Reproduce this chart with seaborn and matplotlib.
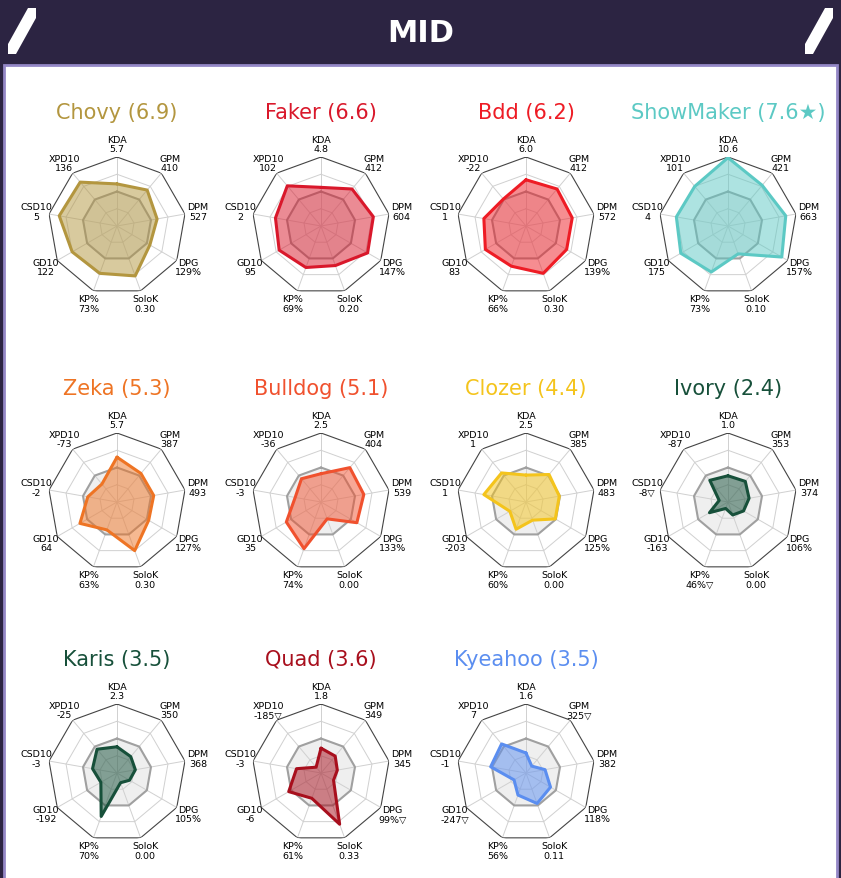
import numpy as np
import matplotlib.pyplot as plt
from matplotlib.patches import Rectangle, Polygon
import seaborn as sns

sns.set_theme(style="white")
plt.rcParams['font.family'] = ['DejaVu Sans']

# axes of every radar, clockwise from the top
stats = ['KDA', 'GPM', 'DPM', 'DPG', 'SoloK', 'KP%', 'GD10', 'CSD10', 'XPD10']

players = ['Chovy', 'Faker', 'Bdd', 'ShowMaker', 'Zeka', 'Bulldog', 'Clozer',
           'Ivory', 'Karis', 'Quad', 'Kyeahoo']
ratings = ['6.9', '6.6', '6.2', '7.6★', '5.3', '5.1', '4.4', '2.4', '3.5', '3.6', '3.5']
colors = ['#b3963f', '#d9182b', '#ee1c25', '#5cc9c4', '#ee7424', '#f0512e',
          '#f4c41c', '#17503a', '#17503a', '#a80f1d', '#5b8ef0']

# raw values shown under the axis names
chovy_txt = ['5.7', '410', '527', '129%', '0.30', '73%', '122', '5', '136']
faker_txt = ['4.8', '412', '604', '147%', '0.20', '69%', '95', '2', '102']
bdd_txt = ['6.0', '412', '572', '139%', '0.30', '66%', '83', '1', '-22']
showmaker_txt = ['10.6', '421', '663', '157%', '0.10', '73%', '175', '4', '101']
zeka_txt = ['5.7', '387', '493', '127%', '0.30', '63%', '64', '-2', '-73']
bulldog_txt = ['2.5', '404', '539', '133%', '0.00', '74%', '35', '-3', '-36']
clozer_txt = ['2.5', '385', '483', '125%', '0.00', '60%', '-203', '1', '1']
ivory_txt = ['1.0', '353', '374', '106%', '0.00', '46%▽', '-163', '-8▽', '-87']
karis_txt = ['2.3', '350', '368', '105%', '0.00', '70%', '-192', '-3', '-25']
quad_txt = ['1.8', '349', '345', '99%▽', '0.33', '61%', '-6', '-3', '-185▽']
kyeahoo_txt = ['1.6', '325▽', '382', '118%', '0.11', '56%', '-247▽', '-1', '7']

# normalised radar values (0..1)
chovy = [0.61, 0.68, 0.59, 0.55, 0.77, 0.73, 0.75, 0.85, 0.83]
faker = [0.56, 0.70, 0.77, 0.78, 0.61, 0.64, 0.70, 0.67, 0.76]
bdd = [0.67, 0.70, 0.68, 0.68, 0.73, 0.62, 0.68, 0.62, 0.51]
showmaker = [0.99, 0.77, 0.85, 0.90, 0.43, 0.71, 0.79, 0.76, 0.75]
zeka = [0.65, 0.54, 0.54, 0.53, 0.75, 0.43, 0.62, 0.43, 0.34]
bulldog = [0.41, 0.65, 0.63, 0.60, 0.26, 0.72, 0.58, 0.38, 0.44]
clozer = [0.39, 0.52, 0.49, 0.49, 0.28, 0.42, 0.27, 0.62, 0.55]
ivory = [0.38, 0.39, 0.31, 0.26, 0.20, 0.10, 0.31, 0.13, 0.41]
karis = [0.38, 0.31, 0.27, 0.21, 0.15, 0.67, 0.27, 0.36, 0.45]
quad = [0.36, 0.32, 0.24, 0.21, 0.79, 0.39, 0.54, 0.36, 0.11]
kyeahoo = [0.29, 0.13, 0.28, 0.41, 0.47, 0.34, 0.20, 0.52, 0.55]

values = [chovy, faker, bdd, showmaker, zeka, bulldog, clozer, ivory, karis, quad, kyeahoo]
texts = [chovy_txt, faker_txt, bdd_txt, showmaker_txt, zeka_txt, bulldog_txt,
         clozer_txt, ivory_txt, karis_txt, quad_txt, kyeahoo_txt]

W, H = 841, 879
fig = plt.figure(figsize=(W / 100, H / 100), dpi=100)
fig.patch.set_facecolor('#2c2442')

# white panel + header decorations
fig.patches.append(Rectangle((4 / W, -0.01), (W - 8) / W, (H - 66) / H + 0.01, transform=fig.transFigure,
                             facecolor='white', edgecolor='#9487c6', lw=2, zorder=-10))
fig.text(0.5, 1 - 33 / H, 'MID', color='white', fontsize=22, fontweight='bold',
         ha='center', va='center')
for x0 in (8, 805):
    pts = [(x0 + 20, 9), (x0 + 28, 9), (x0 + 28, 19), (x0 + 8, 55), (x0, 55), (x0, 45)]
    fig.patches.append(Polygon([(px / W, 1 - py / H) for px, py in pts], closed=True,
                               transform=fig.transFigure, facecolor='white',
                               edgecolor='none', zorder=-5))

n = len(stats)
angles = np.linspace(0, 2 * np.pi, n, endpoint=False)
ring_t = np.append(angles, angles[0])

col_x = [117, 321, 526, 728]
row_y = [227, 503, 774]
R = 69

for i, name in enumerate(players):
    cx = col_x[i % 4]
    cy = row_y[i // 4]
    ax = fig.add_axes([(cx - R) / W, 1 - (cy + R) / H, 2 * R / W, 2 * R / H], projection='polar')
    ax.set_zorder(5)
    ax.set_theta_offset(np.pi / 2)
    ax.set_theta_direction(-1)

    # grid
    ax.fill(ring_t, [0.5] * (n + 1), color='#efefef', zorder=1)
    for a in angles:
        ax.plot([a, a], [0, 1], color='#d0d0d0', lw=0.7, zorder=1)
    for lev in (0.25, 0.75):
        ax.plot(ring_t, [lev] * (n + 1), color='#d0d0d0', lw=0.7, zorder=1)
    ax.plot(ring_t, [0.5] * (n + 1), color='#a0a0a0', lw=1.5, zorder=2)
    ax.plot(ring_t, [1.0] * (n + 1), color='#444444', lw=0.8, zorder=2)

    # player polygon
    v = values[i] + values[i][:1]
    ax.fill(ring_t, v, color=colors[i], alpha=0.5, lw=0, zorder=3)
    sns.lineplot(x=ring_t, y=v, ax=ax, sort=False, estimator=None, color=colors[i], lw=2.2, zorder=4)

    for a, s, t in zip(angles, stats, texts[i]):
        ax.text(a, 1.19, s + '\n' + t, fontsize=6.8, ha='center', va='center',
                color='black', linespacing=1.1, clip_on=False)

    ax.set_ylim(0, 1)
    ax.set_axis_off()

    fig.text(cx / W, 1 - (cy - 114) / H, f'{name} ({ratings[i]})', color=colors[i],
             fontsize=15, ha='center', va='center')

fig.savefig('out.png', dpi=100, facecolor=fig.get_facecolor())
